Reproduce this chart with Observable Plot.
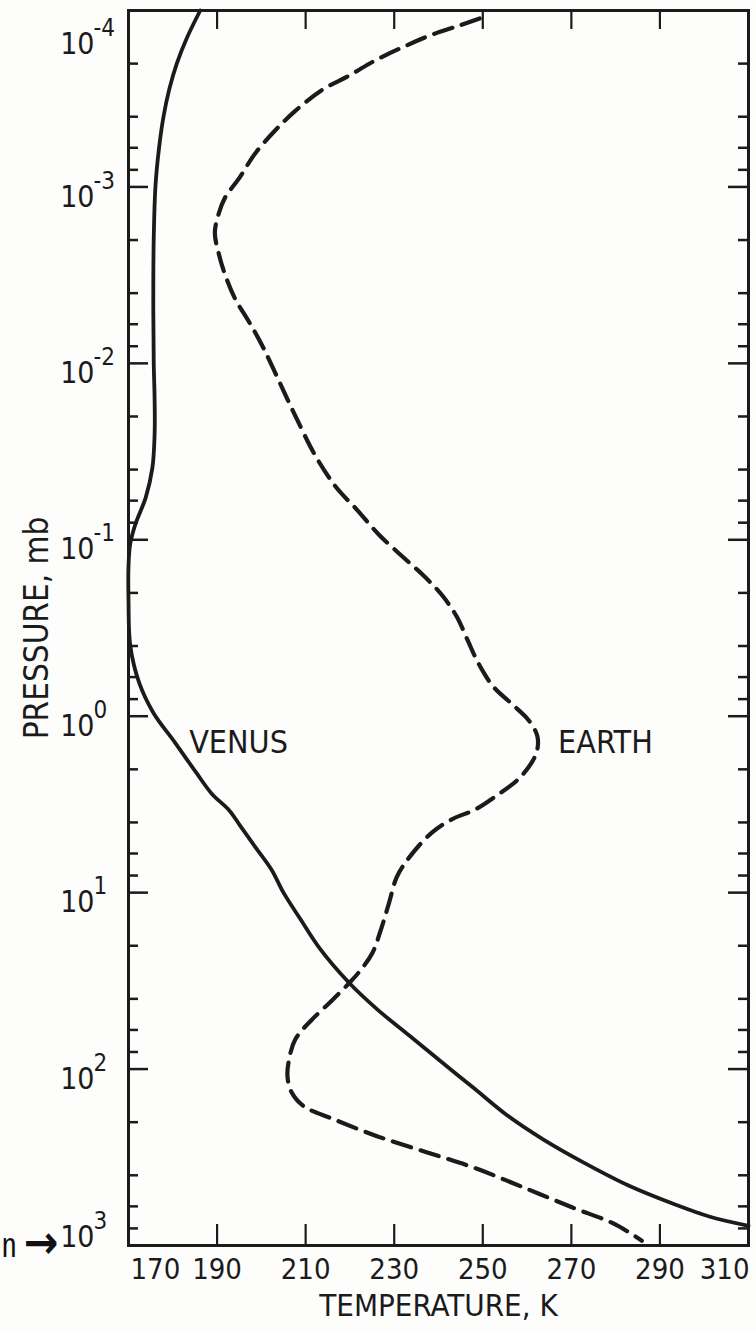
<!DOCTYPE html>
<html>
<head>
<meta charset="utf-8">
<script src="https://cdn.jsdelivr.net/npm/d3@7"></script>
<script src="https://cdn.jsdelivr.net/npm/@observablehq/plot@0.6"></script>
<style>
  html, body { margin: 0; padding: 0; background: #fdfdfc; }
  #chart svg { display: block; }
</style>
</head>
<body>
<div id="chart"></div>
<script>
// Temperature profiles (K) against pressure (mb), read top of atmosphere downward.
const venusTemperature = [186.2, 183.3, 180.9, 179.2, 177.9, 176.9, 176.1, 175.7, 175.6, 175.7,
  175.9, 175.9, 175.4, 173.9, 171.6, 170.4, 170.0, 170.0, 170.4, 172.4, 175.6, 180.5, 185.3,
  188.8, 192.8, 195.2, 198.6, 202.3, 205.0, 208.8, 213.3, 219.8, 226.1, 233.4, 240.7, 248.1,
  255.4, 263.7, 272.8, 282.9, 293.0, 301.3, 310.0];
const venusPressure = [1.0e-4, 1.41e-4, 2.0e-4, 2.8e-4, 4.0e-4, 6.0e-4, 9.8e-4, 1.95e-3, 5.0e-3, 1.0e-2,
  1.62e-2, 2.5e-2, 3.9e-2, 5.75e-2, 8.1e-2, 0.105, 0.141, 0.219, 0.398, 0.646, 0.955, 1.41, 2.09,
  2.75, 3.43, 4.17, 5.5, 7.41, 10, 14.1, 20.9, 32.4, 45.7, 64.6, 91.2, 129,
  182, 251, 339, 457, 580, 687, 773];

const earthTemperature = [249.3, 244.6, 237.9, 231.8, 225.7, 219.8, 213.7, 207.6, 203.1, 198.6,
  195.0, 191.8, 190.4, 189.5, 190.4, 191.7, 194.0, 197.1, 200.0, 202.9, 206.0, 208.3, 211.9,
  216.8, 221.6, 226.5, 232.1, 236.9, 241.0, 244.2, 246.6, 249.0, 252.3, 256.3, 260.3, 262.3,
  262.3, 261.1, 257.9, 253.1, 248.2, 243.4, 238.5, 233.4, 230.6, 228.8, 227.0, 225.1, 222.4,
  219.9, 216.0, 211.4, 207.7, 206.3, 205.9, 206.8, 209.5, 216.0, 226.1, 237.1, 248.1, 259.3,
  270.4, 279.6, 285.9];
const earthPressure = [1.11e-4, 1.22e-4, 1.39e-4, 1.62e-4, 1.92e-4, 2.34e-4, 2.82e-4, 3.72e-4, 4.79e-4, 6.46e-4,
  8.91e-4, 1.15e-3, 1.41e-3, 1.82e-3, 2.40e-3, 3.09e-3, 4.27e-3, 5.75e-3, 7.76e-3, 1.10e-2, 1.62e-2, 2.14e-2, 3.24e-2,
  5.01e-2, 6.76e-2, 9.33e-2, 0.126, 0.162, 0.209, 0.275, 0.372, 0.501, 0.676, 0.841, 1.05, 1.29,
  1.55, 1.82, 2.29, 2.82, 3.39, 3.80, 4.57, 6.31, 8.13, 11.5, 16.2, 21.9, 27.5,
  32.4, 40.7, 52.5, 67.6, 87.1, 110, 135, 162, 191, 240, 295, 363, 470,
  611, 752, 940];

// Axis ticks and labels
const temperatureTicks = [190, 210, 230, 250, 270, 290];
const temperatureEdgeLabels = [170, 310];
const pressureExponents = [-4, -3, -2, -1, 0, 1, 2, 3];
const minorMultipliers = [2, 4, 6, 8];

// Curve names, placed beside each profile
const curveNames = ["VENUS", "EARTH"];
const curveNameTemperature = [183.7, 267];
const curveNamePressure = [1.41, 1.41];

const ink = "#1b1b1b";
const W = 756, H = 1333;
const ML = 128, MR = 8, MT = 10, MB = 88;
const frameW = W - ML - MR, frameH = H - MT - MB;
const font = "'Liberation Sans Narrow', 'DejaVu Sans Condensed', 'Roboto Condensed', 'Open Sans Condensed', sans-serif";

const venus = venusTemperature.map((t, i) => ({t, p: venusPressure[i]}));
const earth = earthTemperature.map((t, i) => ({t, p: earthPressure[i]}));
const majorInner = pressureExponents.slice(1, -1).map(e => 10 ** e);
const minorTicks = pressureExponents.slice(0, -1).flatMap(e => minorMultipliers.map(m => m * 10 ** e));
const decadeLabels = pressureExponents.map(e => ({e, p: 10 ** e}));
const names = curveNames.map((name, i) => ({name, t: curveNameTemperature[i], p: curveNamePressure[i]}));

// "10" with a raised exponent beside each decade tick
function powerLabels(data, dy) {
  return [
    Plot.text(data, {y: "p", text: () => "10", frameAnchor: "left", textAnchor: "end",
      dx: -34, dy, fontSize: 30, fontFamily: font, fill: ink}),
    Plot.text(data, {y: "p", text: d => String(d.e), frameAnchor: "left", textAnchor: "start",
      dx: -35, dy: dy - 16, fontSize: 24, fontFamily: font, fill: ink})
  ];
}

const chart = Plot.plot({
  width: W, height: H,
  marginLeft: ML, marginRight: MR, marginTop: MT, marginBottom: MB,
  style: {background: "#fdfdfc", fontStretch: "condensed"},
  x: {domain: [170, 310], axis: null},
  y: {type: "log", domain: [1e-4, 1e3], reverse: true, axis: null},
  marks: [
    // inward tick marks on all four sides
    Plot.ruleY(majorInner, {y: d => d, insetRight: frameW - 20, stroke: ink, strokeWidth: 2.5}),
    Plot.ruleY(majorInner, {y: d => d, insetLeft: frameW - 20, stroke: ink, strokeWidth: 2.5}),
    Plot.ruleY(minorTicks, {y: d => d, insetRight: frameW - 10, stroke: ink, strokeWidth: 2.5}),
    Plot.ruleY(minorTicks, {y: d => d, insetLeft: frameW - 10, stroke: ink, strokeWidth: 2.5}),
    Plot.ruleX(temperatureTicks, {x: d => d, insetTop: frameH - 21, stroke: ink, strokeWidth: 2.2}),
    Plot.ruleX(temperatureTicks, {x: d => d, insetBottom: frameH - 19, stroke: ink, strokeWidth: 2.2}),
    Plot.frame({stroke: ink, strokeWidth: 3}),

    // temperature profiles
    Plot.line(venus, {x: "t", y: "p", stroke: ink, strokeWidth: 3.8, curve: "catmull-rom"}),
    Plot.line(earth, {x: "t", y: "p", stroke: ink, strokeWidth: 4.2, strokeDasharray: "19,10", curve: "catmull-rom"}),

    Plot.text(names, {x: "t", y: "p", text: "name", textAnchor: "start", fontSize: 32, fontFamily: font, fill: ink}),

    // pressure decade labels
    ...powerLabels(decadeLabels.slice(0, 1), 34),
    ...powerLabels(decadeLabels.slice(1, -1), 10),
    ...powerLabels(decadeLabels.slice(-1), -8),

    // temperature labels
    Plot.text(temperatureTicks, {x: d => d, text: d => String(d), frameAnchor: "bottom", textAnchor: "middle",
      dy: 33, fontSize: 29, fontFamily: font, fill: ink}),
    Plot.text(temperatureEdgeLabels.slice(0, 1), {x: d => d, text: d => String(d), frameAnchor: "bottom",
      textAnchor: "start", dx: 2, dy: 33, fontSize: 29, fontFamily: font, fill: ink}),
    Plot.text(temperatureEdgeLabels.slice(1), {x: d => d, text: d => String(d), frameAnchor: "bottom",
      textAnchor: "end", dx: 1, dy: 33, fontSize: 29, fontFamily: font, fill: ink}),

    // axis titles
    Plot.text(["TEMPERATURE, K"], {text: d => d, frameAnchor: "bottom", textAnchor: "middle", dy: 70,
      fontSize: 31, fontFamily: font, fill: ink}),
    Plot.text(["PRESSURE, mb"], {text: d => d, frameAnchor: "left", textAnchor: "middle", rotate: -90, dx: -91,
      fontSize: 33, fontFamily: font, fill: ink}),

    // pointer at the lower left
    Plot.text(["n"], {text: d => d, frameAnchor: "bottom-left", textAnchor: "start", dx: -127, dy: 11,
      fontSize: 34, fontFamily: "'Open Sans', sans-serif", fill: "#111"}),
    Plot.text(["\u2192"], {text: d => d, frameAnchor: "bottom-left", textAnchor: "start", dx: -105, dy: 12,
      fontSize: 46, fontWeight: "bold", fontFamily: "'DejaVu Sans', sans-serif", fill: "#111"})
  ]
});

document.getElementById("chart").appendChild(chart);
</script>
</body>
</html>
